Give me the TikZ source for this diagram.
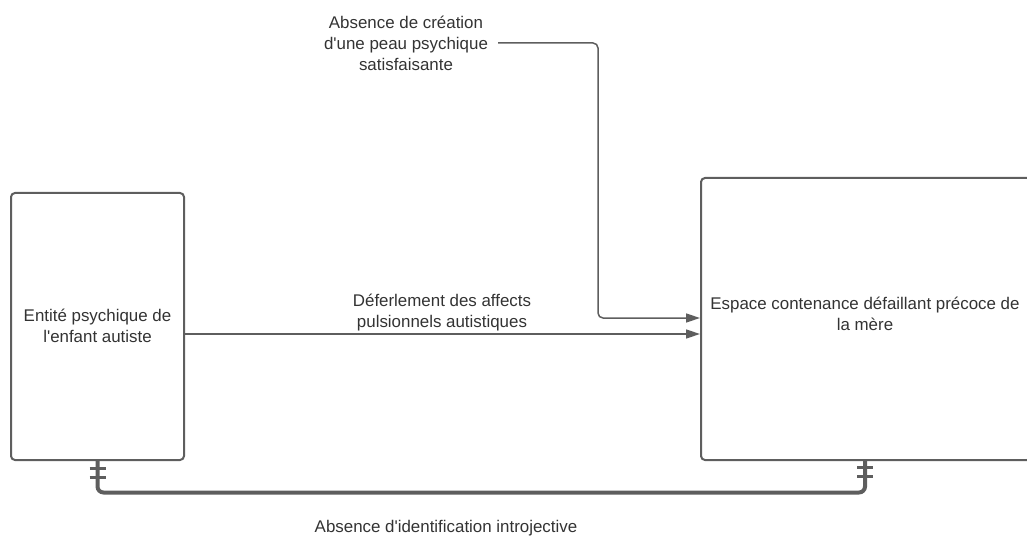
\documentclass[tikz,border=0pt]{standalone}
\usepackage{fontspec}
\setmainfont{Liberation Sans}
\usetikzlibrary{arrows.meta,calc}
\definecolor{ln}{HTML}{5E5E5E}
\definecolor{tx}{HTML}{333333}
\begin{document}
\begin{tikzpicture}[x=1pt,y=-1pt,
  box/.style={draw=ln, line width=2pt, rounded corners=4pt, fill=white, inner sep=0pt},
  lbl/.style={text=tx, font=\fontsize{16.9}{21}\selectfont, align=center, inner sep=3pt},
  arr/.style={draw=ln, line width=1.5pt, -{Triangle[length=14pt,width=9pt]}},
  thick4/.style={draw=ln, line width=4pt},
  tick/.style={draw=ln, line width=3pt}]
\useasboundingbox (0,0) rectangle (1027,537);
\node[box, minimum width=173pt, minimum height=267pt] (L) at (97.5,326.5) {};
\node[lbl] (Lt) at (97.5,326) {Entité psychique de\\l\textquotesingle enfant autiste};
\node[box, minimum width=330pt, minimum height=282pt] (R) at (866,319) {};
\node[lbl] (Rt) at (865,314) {Espace contenance défaillant précoce de\\la mère};
\node[lbl] (T) at (406,43) {Absence de création\\d\textquotesingle une peau psychique\\satisfaisante};
\node[lbl] (D) at (442,313) {Déferlement des affects\\pulsionnels autistiques};
\node[lbl] (B) at (446,528) {Absence d\textquotesingle identification introjective};
\draw[arr, rounded corners=5pt] ($(T.east)+(7,0)$) -| (598,318) -- (R.west |- 598,318);
\draw[arr] (L.east |- 0,334) -- (R.west |- 0,334);
\coordinate (lb) at (L.south);
\coordinate (rb) at (865,460);
\draw[thick4, rounded corners=6pt] (lb) -- (lb |- 0,492.5) -- (rb |- 0,492.5) -- (rb);
\foreach \c in {lb,rb}{
  \draw[tick] ($(\c)+(-8,7)$) -- ($(\c)+(8,7)$);
  \draw[tick] ($(\c)+(-8,16)$) -- ($(\c)+(8,16)$);
}
\end{tikzpicture}
\end{document}
